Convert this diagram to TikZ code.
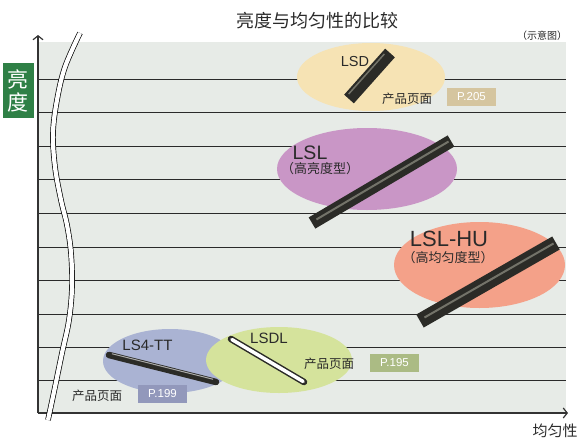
\documentclass[tikz,border=0pt]{standalone}
\usepackage{fontspec}
\setmainfont{Liberation Sans}
\newfontfamily\cjk{Noto Sans CJK SC}
\usetikzlibrary{arrows.meta}
\definecolor{plotbg}{HTML}{E7EBE7}
\definecolor{gridc}{HTML}{2A2A2A}
\definecolor{axisc}{HTML}{333333}
\definecolor{lsdfill}{HTML}{F6E3B4}
\definecolor{lslfill}{HTML}{C996C6}
\definecolor{hufill}{HTML}{F4A189}
\definecolor{ttfill}{HTML}{AAB3D3}
\definecolor{sdlfill}{HTML}{D5E39C}
\definecolor{greenbox}{HTML}{2F8046}
\definecolor{pa}{HTML}{D5C59F}
\definecolor{pb}{HTML}{9298BB}
\definecolor{pc}{HTML}{ABBB84}
\definecolor{txt}{HTML}{2A2A2A}
\definecolor{bardark}{HTML}{2B2B27}
\definecolor{barlight}{HTML}{85857A}
\tikzset{
  gridline/.style={draw=gridc, line width=1pt},
  axisline/.style={draw=axisc, line width=1.2pt},
  lbl/.style={inner sep=0pt, text=txt},
  pbox/.style={inner sep=0pt, minimum width=49pt, minimum height=18pt, text=white, font=\fontsize{11.5}{13}\selectfont},
  darkbar/.style={draw=bardark, line width=#1},
  lightbar/.style={draw=barlight, line width=#1, opacity=0.8},
}
\begin{document}
\begin{tikzpicture}[x=1pt,y=-1pt]
\useasboundingbox (0,0) rectangle (579,440);
% plot background
\fill[plotbg] (38,42) rectangle (566,413);
\foreach \yy in {79,112,146,179,213,247,280,314,347,380}
  \draw[gridline] (38,\yy) -- (566,\yy);
% ellipses
\fill[lsdfill] (371,77) ellipse [x radius=74, y radius=34];
\fill[lslfill] (367,169) ellipse [x radius=90, y radius=41];
\fill[hufill] (479.5,265) ellipse [x radius=85.5, y radius=43];
\fill[ttfill] (170,361) ellipse [x radius=67, y radius=32];
\fill[sdlfill] (279,360) ellipse [x radius=73, y radius=33];
% bars
\coordinate (lsdA) at (349,99); \coordinate (lsdB) at (390,53);
\coordinate (lslA) at (312,223); \coordinate (lslB) at (451,141);
\coordinate (huA) at (420,321);  \coordinate (huB) at (556,243);
\coordinate (ttA) at (109,355);  \coordinate (ttB) at (216,382);
\coordinate (sdA) at (231,339);  \coordinate (sdB) at (304,382);
\draw[darkbar=13pt] (lsdA) -- (lsdB);
\draw[lightbar=1.5pt, shorten <=4pt, shorten >=4pt] ([xshift=-3pt,yshift=2pt]lsdA) -- ([xshift=-3pt,yshift=2pt]lsdB);
\draw[darkbar=13pt] (lslA) -- (lslB);
\draw[lightbar=2pt, shorten <=4pt, shorten >=4pt] ([xshift=1pt,yshift=1.5pt]lslA) -- ([xshift=1pt,yshift=1.5pt]lslB);
\draw[darkbar=15pt] (huA) -- (huB);
\draw[lightbar=2pt, shorten <=4pt, shorten >=4pt] ([xshift=1pt,yshift=1.5pt]huA) -- ([xshift=1pt,yshift=1.5pt]huB);
\draw[darkbar=6.5pt, line cap=round] (ttA) -- (ttB);
\draw[draw=white, line width=1pt, opacity=0.6, shorten <=3pt, shorten >=3pt] ([yshift=2pt]ttA) -- ([yshift=2pt]ttB);
\draw[darkbar=6.5pt, line cap=round] (sdA) -- (sdB);
\draw[draw=white, line width=3.5pt, line cap=round, shorten <=1pt, shorten >=1pt] (sdA) -- (sdB);
% labels
\node[lbl, font=\cjk\fontsize{18}{20}\selectfont] (title) at (317,21) {亮度与均匀性的比较};
\node[lbl, font=\cjk\fontsize{10}{12}\selectfont] (note) at (542,36) {（示意图）};
\node[inner sep=0pt, fill=greenbox, minimum width=31pt, minimum height=55pt, text=white, align=center, font=\cjk\fontsize{21}{23}\selectfont] (ylab) at (18.5,90.5) {亮\\度};
\node[lbl, font=\cjk\fontsize{15}{17}\selectfont] (xlab) at (555,431) {均匀性};
\node[lbl, font=\fontsize{14.5}{16}\selectfont] (lsd) at (355,62) {LSD};
\node[lbl, font=\cjk\fontsize{12.5}{14}\selectfont] (lsdp) at (407,99) {产品页面};
\node[pbox, fill=pa] (p205) at (471.5,97) {P.205};
\node[lbl, font=\fontsize{19.5}{21}\selectfont] (lsl) at (310,153) {LSL};
\node[lbl, font=\cjk\fontsize{13}{15}\selectfont] (lslsub) at (320,169) {（高亮度型）};
\node[lbl, font=\fontsize{22}{24}\selectfont] (lslhu) at (449,239) {LSL-HU};
\node[lbl, font=\cjk\fontsize{13}{15}\selectfont] (husub) at (448,258) {（高均匀度型）};
\node[lbl, font=\fontsize{15}{17}\selectfont] (ls4tt) at (147.5,345) {LS4-TT};
\node[lbl, font=\cjk\fontsize{12.5}{14}\selectfont] (ttp) at (97,396) {产品页面};
\node[pbox, fill=pb] (p199) at (162.5,394) {P.199};
\node[lbl, font=\fontsize{15}{17}\selectfont] (lsdl) at (269,338) {LSDL};
\node[lbl, font=\cjk\fontsize{12.5}{14}\selectfont] (sdp) at (329,364) {产品页面};
\node[pbox, fill=pc] (p195) at (394.5,363) {P.195};
% axes
\draw[axisline, -{Straight Barb[length=4pt,width=10pt]}] (38,413) -- (38,35);
\draw[axisline, -{Straight Barb[length=4pt,width=10pt]}] (38,413) -- (568,413);
% break
\draw[draw=black, line width=0.7pt, double=white, double distance=4.2pt]
  plot[smooth, tension=0.6] coordinates {(80,33) (65,67) (57,100) (53,133) (55,167) (61,200) (67,225) (71,253) (72,287) (69,320) (62,353) (55,387) (48,420)};
\end{tikzpicture}
\end{document}
